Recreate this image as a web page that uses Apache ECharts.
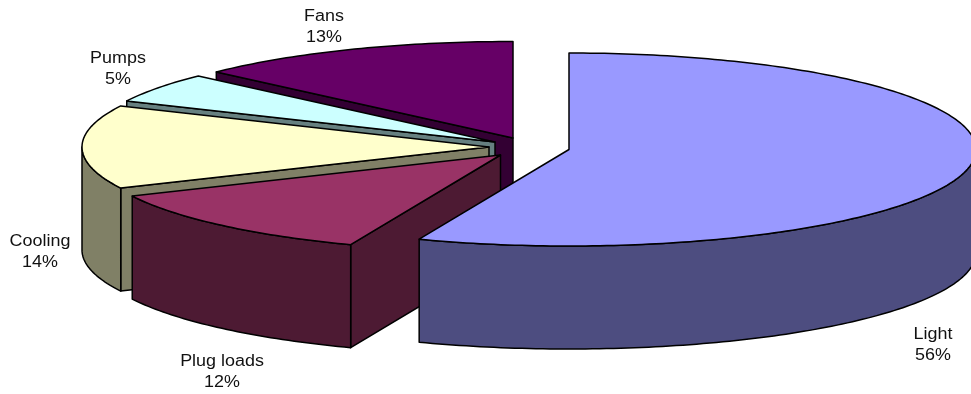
<!DOCTYPE html>
<html>
<head>
<meta charset="utf-8">
<style>
  html, body { margin: 0; padding: 0; background: #fff; }
  #chart { width: 971px; height: 394px; }
</style>
<script src="https://cdn.jsdelivr.net/npm/echarts@6/dist/echarts.min.js"></script>
</head>
<body>
<div id="chart"></div>
<script>
// Energy use by end use, in percent, clockwise from twelve o'clock
const categories = ['Light', 'Plug loads', 'Cooling', 'Pumps', 'Fans'];
const shares = [56, 12, 14, 5, 13];

const topColors = ['#9999FF', '#993366', '#FFFFCC', '#CCFFFF', '#660066'];
const sideColors = ['#4D4D80', '#4D1A33', '#808066', '#668080', '#330033'];

// Exploded wedge apexes, and where each caption is centred
const apexes = [[569, 149.5], [500.5, 155], [489, 147], [495, 142], [513, 138]];
const captionCentres = [[933, 345], [222, 372], [40, 252.5], [118, 69], [324, 27]];

const RX = 407;
const RY = 96.5;
const DEPTH = 103;
const total = shares.reduce((a, b) => a + b, 0);
const rad = d => d * Math.PI / 180;

function rimPoint(apex, deg, drop) {
  return [apex[0] + RX * Math.sin(rad(deg)), apex[1] - RY * Math.cos(rad(deg)) + drop];
}

function arc(apex, from, to, drop) {
  const pts = [];
  const steps = Math.max(2, Math.ceil(Math.abs(to - from)));
  for (let i = 0; i <= steps; i++) {
    pts.push(rimPoint(apex, from + (to - from) * i / steps, drop));
  }
  return pts;
}

const edgeStyle = { stroke: '#000', lineWidth: 1.5, lineJoin: 'round' };

function renderSlice(params, api) {
  const i = params.dataIndex;
  const value = api.value(0);
  const before = shares.slice(0, i).reduce((a, b) => a + b, 0);
  const start = before / total * 360;
  const end = start + value / total * 360;
  const apex = apexes[i];
  const order = (categories.length - i) * 10;
  const children = [];

  // Radial wall, drawn only when it turns towards the viewer
  if (Math.sin(rad(start)) < -1e-6) {
    const rim = rimPoint(apex, start, 0);
    children.push({
      type: 'polygon', z2: order,
      shape: { points: [apex, rim, [rim[0], rim[1] + DEPTH], [apex[0], apex[1] + DEPTH]] },
      style: Object.assign({ fill: sideColors[i] }, edgeStyle)
    });
  }

  // Outer curved wall, front half of the rim only
  const from = Math.max(start, 90);
  const to = Math.min(end, 270);
  if (to > from) {
    children.push({
      type: 'polygon', z2: order + 1,
      shape: { points: arc(apex, from, to, 0).concat(arc(apex, to, from, DEPTH)) },
      style: Object.assign({ fill: sideColors[i] }, edgeStyle)
    });
  }

  // Top face
  children.push({
    type: 'polygon', z2: order + 2,
    shape: { points: [apex].concat(arc(apex, start, end, 0)) },
    style: Object.assign({ fill: topColors[i] }, edgeStyle)
  });

  // Caption: name above percentage
  children.push({
    type: 'text', z2: 100,
    x: captionCentres[i][0], y: captionCentres[i][1], scaleX: 1.12,
    style: {
      text: categories[i] + '\n' + value + '%',
      align: 'center', verticalAlign: 'middle',
      fontFamily: '"Liberation Sans", Arial, sans-serif', fontSize: 16,
      lineHeight: 21, fill: '#111'
    }
  });

  return { type: 'group', children };
}

const chart = echarts.init(document.getElementById('chart'), null, { renderer: 'canvas' });
chart.setOption({
  backgroundColor: '#fff',
  animation: false,
  series: [{
    type: 'custom',
    coordinateSystem: 'none',
    renderItem: renderSlice,
    data: shares.map(v => [v]),
    silent: true
  }]
});
</script>
</body>
</html>
